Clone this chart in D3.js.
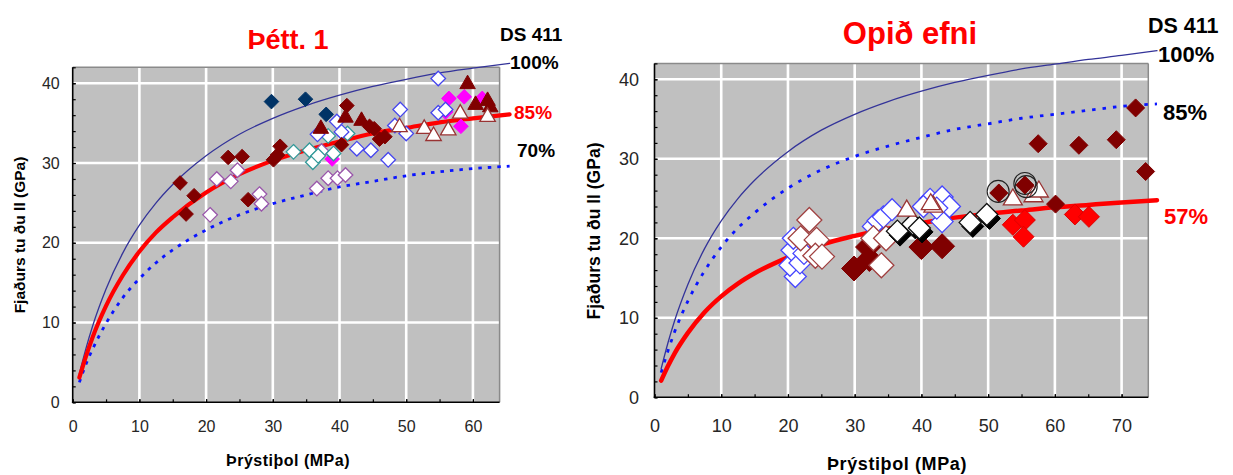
<!DOCTYPE html>
<html>
<head>
<meta charset="utf-8">
<script src="https://cdn.jsdelivr.net/npm/d3@7"></script>
<style>
  html, body { margin: 0; padding: 0; background: #ffffff; }
  svg { display: block; }
  text { font-family: "Liberation Sans", Arial, sans-serif; }
</style>
</head>
<body>
<svg id="chart" width="1233" height="475"></svg>
<script>
// ---------------- DATA ----------------
// Left chart "Þétt. 1"
const leftCurveX  = [1, 2, 3, 5, 7.5, 10, 12.5, 15, 20, 25, 30, 35, 40, 45, 50, 55, 60, 65.5];
const left100     = [3.6, 6.8, 9.6, 14.2, 18.7, 22.2, 25.0, 27.3, 30.9, 33.6, 35.6, 37.2, 38.5, 39.6, 40.5, 41.3, 41.9, 42.5];
const left85      = [3.1, 5.8, 8.2, 12.1, 15.9, 18.9, 21.3, 23.2, 26.3, 28.6, 30.3, 31.6, 32.7, 33.7, 34.4, 35.1, 35.6, 36.1];
const left70      = [2.5, 4.8, 6.7, 9.9, 13.1, 15.5, 17.5, 19.1, 21.6, 23.5, 24.9, 26.0, 27.0, 27.7, 28.4, 28.9, 29.3, 29.6];

const leftNavyDiamonds    = [[29.8, 37.7], [34.9, 38.0], [38.0, 36.1]];
const leftMaroonDiamonds  = [[16.1, 27.5], [18.2, 25.9], [17.0, 23.6], [23.3, 30.7], [25.4, 30.8], [26.3, 25.4],
                             [30.1, 30.4], [31.1, 32.1], [30.7, 31.0], [40.3, 32.3], [41.1, 37.2], [44.5, 34.6],
                             [45.2, 34.3], [46.0, 33.0], [46.8, 33.3]];
const leftMaroonTriangles = [[37.2, 34.4], [40.9, 35.8], [43.3, 35.4], [59.2, 40.0], [60.4, 37.4], [62.2, 37.9], [62.6, 37.1]];
const leftBlueOpen        = [[54.8, 40.6], [49.1, 36.7], [48.3, 34.7], [50.0, 33.7], [54.8, 36.3], [55.9, 36.7],
                             [47.3, 30.4], [44.7, 31.6], [42.6, 31.8], [40.3, 33.9], [39.6, 35.2], [36.7, 33.6]];
const leftTealOpen        = [[33.1, 31.4], [35.5, 31.6], [36.0, 30.1], [36.8, 30.9], [39.1, 31.2], [38.3, 33.4], [41.2, 33.7]];
const leftMagenta         = [[38.9, 30.5], [56.4, 38.1], [58.7, 38.3], [58.2, 34.6], [61.4, 38.1], [55.9, 36.4]];
const leftPurpleOpen      = [[20.6, 23.5], [21.6, 28.0], [23.7, 27.7], [24.7, 29.1], [28.0, 26.1], [28.3, 24.9],
                             [36.6, 26.8], [38.3, 28.1], [39.7, 28.1], [40.9, 28.5], [37.3, 31.5]];
const leftOpenTriangles   = [[49.0, 34.6], [52.7, 34.4], [54.1, 33.5], [56.3, 34.2], [58.1, 36.3], [62.2, 35.9]];

// Right chart "Opið efni"
const rightCurveX = [1, 2, 3, 5, 7.5, 10, 12.5, 15, 20, 25, 30, 35, 40, 45, 50, 55, 60, 65, 70, 75.3];
const right100    = [3.6, 6.8, 9.6, 14.2, 18.7, 22.2, 25.0, 27.3, 30.9, 33.6, 35.6, 37.2, 38.5, 39.6, 40.5, 41.3, 41.9, 42.5, 43.0, 43.6];
const right85     = [3.1, 5.8, 8.2, 12.1, 15.9, 18.9, 21.3, 23.2, 26.3, 28.6, 30.3, 31.6, 32.7, 33.7, 34.4, 35.1, 35.6, 36.1, 36.6, 36.9];
const right57     = [2.1, 3.9, 5.5, 8.1, 10.7, 12.7, 14.3, 15.6, 17.6, 19.2, 20.3, 21.2, 21.9, 22.6, 23.1, 23.5, 23.9, 24.2, 24.5, 24.8];

const rightDarkRedBig   = [[29.9, 16.2], [32.2, 17.4], [32.0, 18.9], [40.0, 18.9], [43.1, 19.0]];
const rightBlueOpen     = [[21.1, 15.2], [20.3, 16.6], [20.6, 18.5], [20.8, 20.0], [21.8, 16.9], [22.4, 18.1],
                           [32.8, 21.5], [33.5, 22.2], [34.3, 22.7], [35.6, 23.6], [41.3, 24.9], [43.1, 25.2],
                           [44.2, 24.0], [43.1, 22.1], [40.3, 24.0], [42.3, 23.8]];
const rightMaroonOpen   = [[23.2, 22.3], [21.9, 20.0], [24.3, 19.8], [24.1, 17.8], [25.1, 17.7], [32.8, 20.0], [34.0, 16.6], [34.7, 20.0]];
const rightBlackFilled  = [[36.8, 20.4], [39.1, 21.3], [40.1, 20.8], [47.7, 21.5], [50.2, 22.5]];
const rightBlackOpen    = [[36.4, 20.9], [38.7, 21.8], [39.7, 21.3], [47.3, 22.0], [49.8, 23.0]];
const rightOpenTriangles= [[37.8, 23.6], [41.8, 24.1], [41.4, 24.4], [53.7, 25.0], [56.8, 25.4], [57.6, 26.0]];
const rightRed          = [[53.7, 21.7], [55.5, 22.3], [55.3, 20.2], [63.0, 23.0], [65.1, 22.7]];
const rightDarkRedSmall = [[51.6, 25.7], [55.5, 26.7], [57.5, 31.9], [60.1, 24.3], [63.6, 31.7], [69.2, 32.4], [72.1, 36.4], [73.6, 28.4]];
const rightCircles      = [[51.5, 25.9], [55.5, 26.9], [55.7, 26.5]];

// Tick values
const leftXTicks  = [0, 10, 20, 30, 40, 50, 60];
const rightXTicks = [0, 10, 20, 30, 40, 50, 60, 70];
const yTicks      = [0, 10, 20, 30, 40];

// Texts
const leftTitle  = "Þétt. 1";
const rightTitle = "Opið efni";
const xTitle     = "Þrýstiþol (MPa)";
const yTitle     = "Fjaðurs tu ðu ll (GPa)";
const leftCurveLabels  = ["DS 411", "100%", "85%", "70%"];
const rightCurveLabels = ["DS 411", "100%", "85%", "57%"];

// ---------------- DRAWING ----------------
const svg = d3.select("#chart");

function diamondPath(r) { return `M0,${-r}L${r},0L0,${r}L${-r},0Z`; }
function trianglePath(w, h) { return `M0,${-h*0.6}L${w/2},${h*0.4}L${-w/2},${h*0.4}Z`; }

function makePanel(cfg) {
  const g = svg.append("g");
  const x = d3.scaleLinear().domain(cfg.xDomain).range([cfg.left, cfg.right]);
  const y = d3.scaleLinear().domain([0, 42]).range([cfg.bottom, cfg.top]);

  // background
  g.append("rect").attr("x", cfg.left).attr("y", cfg.top)
    .attr("width", cfg.right - cfg.left).attr("height", cfg.bottom - cfg.top)
    .attr("fill", "#c0c0c0");

  // grid
  g.selectAll(".gx").data(cfg.xTicks.filter(d => d > 0)).join("line")
    .attr("x1", d => x(d)).attr("x2", d => x(d))
    .attr("y1", cfg.top).attr("y2", cfg.bottom)
    .attr("stroke", "#ffffff").attr("stroke-width", 2.6);
  g.selectAll(".gy").data(yTicks.filter(d => d > 0)).join("line")
    .attr("x1", cfg.left).attr("x2", cfg.right)
    .attr("y1", d => y(d)).attr("y2", d => y(d))
    .attr("stroke", "#ffffff").attr("stroke-width", 2.6);

  // frame: top/right gray, left/bottom black
  g.append("line").attr("x1", cfg.left).attr("x2", cfg.right).attr("y1", cfg.top).attr("y2", cfg.top)
    .attr("stroke", "#8a8a8a").attr("stroke-width", 1.5);
  g.append("line").attr("x1", cfg.right).attr("x2", cfg.right).attr("y1", cfg.top).attr("y2", cfg.bottom)
    .attr("stroke", "#8a8a8a").attr("stroke-width", 1.5);

  // axes
  const fs = cfg.tickFont;
  const yAxis = d3.axisLeft(y).tickValues(yTicks).tickSize(-3).tickPadding(cfg.yPad).tickFormat(d3.format("d"));
  const yMinor = d3.axisLeft(y).tickValues(d3.range(0, 42.01, 2)).tickSize(-3).tickFormat("");
  const xAxis = d3.axisBottom(x).tickValues(cfg.xTicks).tickSize(-3).tickPadding(cfg.xPad).tickFormat(d3.format("d"));
  const xMinor = d3.axisBottom(x).tickValues(d3.range(0, cfg.xDomain[1] + 0.01, 5)).tickSize(-3).tickFormat("");

  const ga = g.append("g").attr("transform", `translate(${cfg.left},0)`).call(yMinor);
  const gb = g.append("g").attr("transform", `translate(${cfg.left},0)`).call(yAxis);
  const gc = g.append("g").attr("transform", `translate(0,${cfg.bottom})`).call(xMinor);
  const gd = g.append("g").attr("transform", `translate(0,${cfg.bottom})`).call(xAxis);
  [ga, gb, gc, gd].forEach(a => {
    a.select(".domain").remove();
    a.selectAll(".tick line").attr("stroke", "#000").attr("stroke-width", 1.2);
    a.selectAll(".tick text").attr("fill", "#262626").attr("font-size", fs + "px")
      .attr("font-family", '"Liberation Sans", Arial, sans-serif');
  });
  g.append("line").attr("x1", cfg.left).attr("x2", cfg.left).attr("y1", cfg.top).attr("y2", cfg.bottom + 0.75)
    .attr("stroke", "#000").attr("stroke-width", 1.6);
  g.append("line").attr("x1", cfg.left - 0.75).attr("x2", cfg.right).attr("y1", cfg.bottom).attr("y2", cfg.bottom)
    .attr("stroke", "#000").attr("stroke-width", 1.6);

  return { g, x, y };
}

function drawCurve(p, xs, ys, style) {
  const pts = xs.map((v, i) => [v, ys[i]]);
  const line = d3.line().x(d => p.x(d[0])).y(d => p.y(d[1])).curve(d3.curveMonotoneX);
  const path = p.g.append("path").attr("d", line(pts)).attr("fill", "none")
    .attr("stroke", style.color).attr("stroke-width", style.width)
    .attr("stroke-linecap", style.cap || "round").attr("stroke-linejoin", "round");
  if (style.dash) path.attr("stroke-dasharray", style.dash);
}

function drawMarkers(p, data, shape, fill, stroke, sw) {
  p.g.append("g").selectAll("path").data(data).join("path")
    .attr("transform", d => `translate(${p.x(d[0])},${p.y(d[1])})`)
    .attr("d", shape)
    .attr("fill", fill).attr("stroke", stroke).attr("stroke-width", sw);
}

// ---- Left panel ----
const L = makePanel({ left: 72.7, right: 499.6, top: 67.3, bottom: 402.3, xDomain: [0, 64],
                      xTicks: leftXTicks, tickFont: 16, yPad: 13, xPad: 18.5 });
drawCurve(L, leftCurveX, left70, { color: "#0a14ff", width: 2.8, dash: "3.5,6", cap: "butt" });
drawCurve(L, leftCurveX, left100, { color: "#333399", width: 1.3 });
drawCurve(L, leftCurveX, left85, { color: "#ff0000", width: 4.2 });

const dL = diamondPath(7.3), tL = trianglePath(15.5, 13.5);
drawMarkers(L, leftMagenta, dL, "#ff00ff", "#ff00ff", 1);
drawMarkers(L, leftPurpleOpen, dL, "#ffffff", "#9955aa", 1.3);
drawMarkers(L, leftTealOpen, dL, "#ffffff", "#339999", 1.3);
drawMarkers(L, leftBlueOpen, dL, "#ffffff", "#4545ee", 1.3);
drawMarkers(L, leftMaroonDiamonds, dL, "#800000", "#800000", 1);
drawMarkers(L, leftMaroonTriangles, tL, "#800000", "#800000", 1);
drawMarkers(L, leftNavyDiamonds, dL, "#003366", "#003366", 1);
drawMarkers(L, leftOpenTriangles, tL, "#ffffff", "#993333", 1.3);

// ---- Right panel ----
const R = makePanel({ left: 654.5, right: 1148.3, top: 63.4, bottom: 397.3, xDomain: [0, 74],
                      xTicks: rightXTicks, tickFont: 18, yPad: 15.5, xPad: 22.2 });
drawCurve(R, rightCurveX, right85, { color: "#0a14ff", width: 2.8, dash: "3.5,7", cap: "butt" });
drawCurve(R, rightCurveX, right100, { color: "#333399", width: 1.3 });
drawCurve(R, rightCurveX, right57, { color: "#ff0000", width: 4.5 });

const dRbig = diamondPath(12), dRmid = diamondPath(11), dRsmall = diamondPath(9), tR = trianglePath(19, 16);
drawMarkers(R, rightDarkRedBig, diamondPath(12.5), "#800000", "#800000", 1);
drawMarkers(R, rightBlueOpen, dRmid, "#ffffff", "#4545ff", 1.3);
drawMarkers(R, rightMaroonOpen, diamondPath(12.5), "#ffffff", "#a04040", 1.3);
drawMarkers(R, rightBlackFilled, dRmid, "#000000", "#000000", 1);
drawMarkers(R, rightBlackOpen, dRmid, "#ffffff", "#111111", 1.3);
drawMarkers(R, rightOpenTriangles, tR, "#ffffff", "#993333", 1.3);
drawMarkers(R, rightRed, diamondPath(10.5), "#ff0000", "#dd0000", 1);
drawMarkers(R, rightDarkRedSmall, dRsmall, "#800000", "#800000", 1);
R.g.append("g").selectAll("circle").data(rightCircles).join("circle")
  .attr("cx", d => R.x(d[0])).attr("cy", d => R.y(d[1])).attr("r", 11)
  .attr("fill", "none").attr("stroke", "#222").attr("stroke-width", 1.1);

// ---- Texts ----
function txt(x, y, s, size, opts = {}) {
  const t = svg.append("text").attr("x", x).attr("y", y).text(s)
    .attr("font-size", size + "px").attr("font-weight", opts.weight || "bold")
    .attr("fill", opts.fill || "#000").attr("text-anchor", opts.anchor || "start");
  if (opts.rotate) t.attr("transform", `rotate(-90,${x},${y})`);
  if (opts.ls) t.attr("letter-spacing", opts.ls);
  return t;
}
// titles
txt(288, 49, leftTitle, 27, { fill: "#ff0000", anchor: "middle" });
txt(910, 44, rightTitle, 31, { fill: "#ff0000", anchor: "middle" });
// curve labels left
txt(500, 41, leftCurveLabels[0], 19);
txt(510, 69, leftCurveLabels[1], 19);
txt(514, 119, leftCurveLabels[2], 19, { fill: "#ff0000" });
txt(517, 157, leftCurveLabels[3], 19);
// curve labels right
txt(1148, 33, rightCurveLabels[0], 21.5);
txt(1158, 62, rightCurveLabels[1], 22);
txt(1163, 119.5, rightCurveLabels[2], 22);
txt(1164, 223.5, rightCurveLabels[3], 22, { fill: "#ff0000" });
// axis titles
txt(288, 466, xTitle, 16, { anchor: "middle", ls: "0.5px" });
txt(897, 470, xTitle, 18, { anchor: "middle", ls: "0.6px" });
txt(25, 235, yTitle, 15.5, { anchor: "middle", rotate: true });
txt(600, 231, yTitle, 17.5, { anchor: "middle", rotate: true });
</script>
</body>
</html>
